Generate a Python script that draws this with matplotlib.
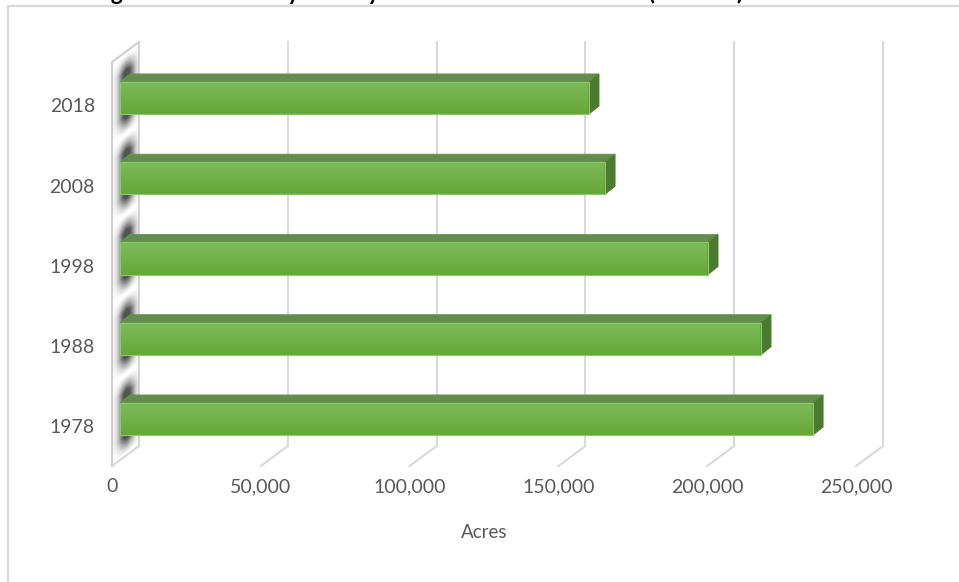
import numpy as np
import matplotlib
matplotlib.use('Agg')
import matplotlib.pyplot as plt
from matplotlib.patches import Polygon, Rectangle
from matplotlib.lines import Line2D
from matplotlib.colors import LinearSegmentedColormap

years = ['1978', '1988', '1998', '2008', '2018']
acres = [232900, 215400, 197600, 163000, 157600]
xticks = [0, 50000, 100000, 150000, 200000, 250000]
xtick_labels = ['0', '50,000', '100,000', '150,000', '200,000', '250,000']

W, H = 959, 582
plt.rcParams['font.family'] = ['Lato', 'DejaVu Sans']
fig = plt.figure(figsize=(W / 100, H / 100), dpi=100)

# front plane of the bars, in pixels
L, R, T, B = 120, 864, 56, 460
ax = fig.add_axes([L / W, (H - B) / H, (R - L) / W, (B - T) / H])
xmax = 250000
ylo, yhi = -0.511, 4.523
px = xmax / (R - L)          # data units per pixel
py = (yhi - ylo) / (B - T)

grid_c = '#d9d9d9'
text_c = '#595959'

# back wall gridlines and floor diagonals
for t in xticks:
    ax.plot([t + 19 * px] * 2, [ylo + 14 * py, yhi + 14 * py],
            color=grid_c, lw=1.5, clip_on=False, zorder=0)
    ax.plot([t + 19 * px, t - 8 * px], [ylo + 14 * py, ylo - 6 * py],
            color=grid_c, lw=1.5, clip_on=False, zorder=0)

# side wall outline
ax.plot([-8 * px] * 2, [ylo - 6 * py, yhi - 6 * py], color='#d0d0d0', lw=1.5,
        clip_on=False, zorder=0)
ax.plot([-8 * px, 19 * px], [yhi - 6 * py, yhi + 14 * py], color='#d0d0d0', lw=1.5,
        clip_on=False, zorder=0)

# soft shadows of the bars on the side wall
h = 0.4
nx, ny = 28, 440
x0, x1 = -8 * px, 19 * px
y0, y1 = ylo - 6 * py, yhi + 14 * py
xs = np.linspace(x0, x1, nx)
ys = np.linspace(y0, y1, ny)
X, Y = np.meshgrid(xs, ys)
U = (X - x0) / (x1 - x0)
H3 = Y - U * 20 * py
dark = np.zeros_like(U)
for i in range(len(acres)):
    lo_, hi_ = i - h / 2 - 6 * py, i + h / 2 - 6 * py
    dist = np.maximum(np.maximum(lo_ - H3, H3 - hi_), 0) / py
    dark = np.maximum(dark, np.clip(1 - (dist - 6) / 17, 0, 1) ** 1.2)
profile = np.exp(-((U - 0.55) / 0.3) ** 2)
inside = (H3 >= ylo - 6 * py) & (H3 <= yhi - 6 * py)
rgba = np.zeros((ny, nx, 4))
rgba[..., :3] = 0.25
rgba[..., 3] = np.clip(1.05 * dark * profile, 0, 0.9) * inside
ax.imshow(rgba, extent=[x0, x1, y0, y1], origin='lower', aspect='auto',
          interpolation='bilinear', zorder=1, clip_on=False)

# 3D bars
face_cmap = LinearSegmentedColormap.from_list('face', ['#66a73a', '#71b249', '#7dbb5a'])
grad = np.linspace(0, 1, 64).reshape(-1, 1)
dx, dy = 10 * px, 8 * py
for i, v in enumerate(acres):
    yb, yt = i - h / 2, i + h / 2
    ax.imshow(grad, extent=[0, v, yb, yt], origin='lower', cmap=face_cmap,
              aspect='auto', interpolation='bilinear', zorder=3)
    ax.add_patch(Rectangle((0, yb), v, h, fill=False, ec='#8ccb6a', lw=0.8, zorder=4))
    ax.add_patch(Polygon([(0, yt), (v, yt), (v + dx, yt + dy), (dx, yt + dy)],
                         closed=True, fc='#628d4d', ec='#6a9556', lw=0.6, zorder=3))
    ax.add_patch(Polygon([(v, yb), (v, yt), (v + dx, yt + dy), (v + dx, yb + dy)],
                         closed=True, fc='#4a7a2e', ec='#4f8033', lw=0.6, zorder=3))

# labels
for i, yr in enumerate(years):
    ax.text(-25 * px, i - 9 * py, yr, ha='right', va='center', fontsize=14,
            color=text_c, clip_on=False)
for t, lab in zip(xticks, xtick_labels):
    ax.text(t - 8 * px, ylo - 27 * py, lab, ha='center', va='center', fontsize=14,
            color=text_c, clip_on=False)
ax.text(xmax / 2 - 8 * px, ylo - 73 * py, 'Acres', ha='center', va='center',
        fontsize=13.5, color=text_c, clip_on=False)

ax.set_xlim(0, xmax)
ax.set_ylim(ylo, yhi)
ax.set_xticks([])
ax.set_yticks([])
ax.patch.set_alpha(0)
for s in ax.spines.values():
    s.set_visible(False)

# chart title, partly above the top edge
fig.text(0.5, 1.0 - 0.5 / H,
         'Agricultural Land by County in the North Central Area (in Acres) 1978-2018',
         ha='center', va='baseline', fontsize=16.5, fontweight='bold', color='black')

# chart area border
fig.add_artist(Line2D([8 / W, 1], [(H - 6) / H] * 2, color=grid_c, lw=1.6))
fig.add_artist(Line2D([8 / W] * 2, [0, (H - 6) / H], color=grid_c, lw=1.6))

fig.savefig('out.png', dpi=100)
